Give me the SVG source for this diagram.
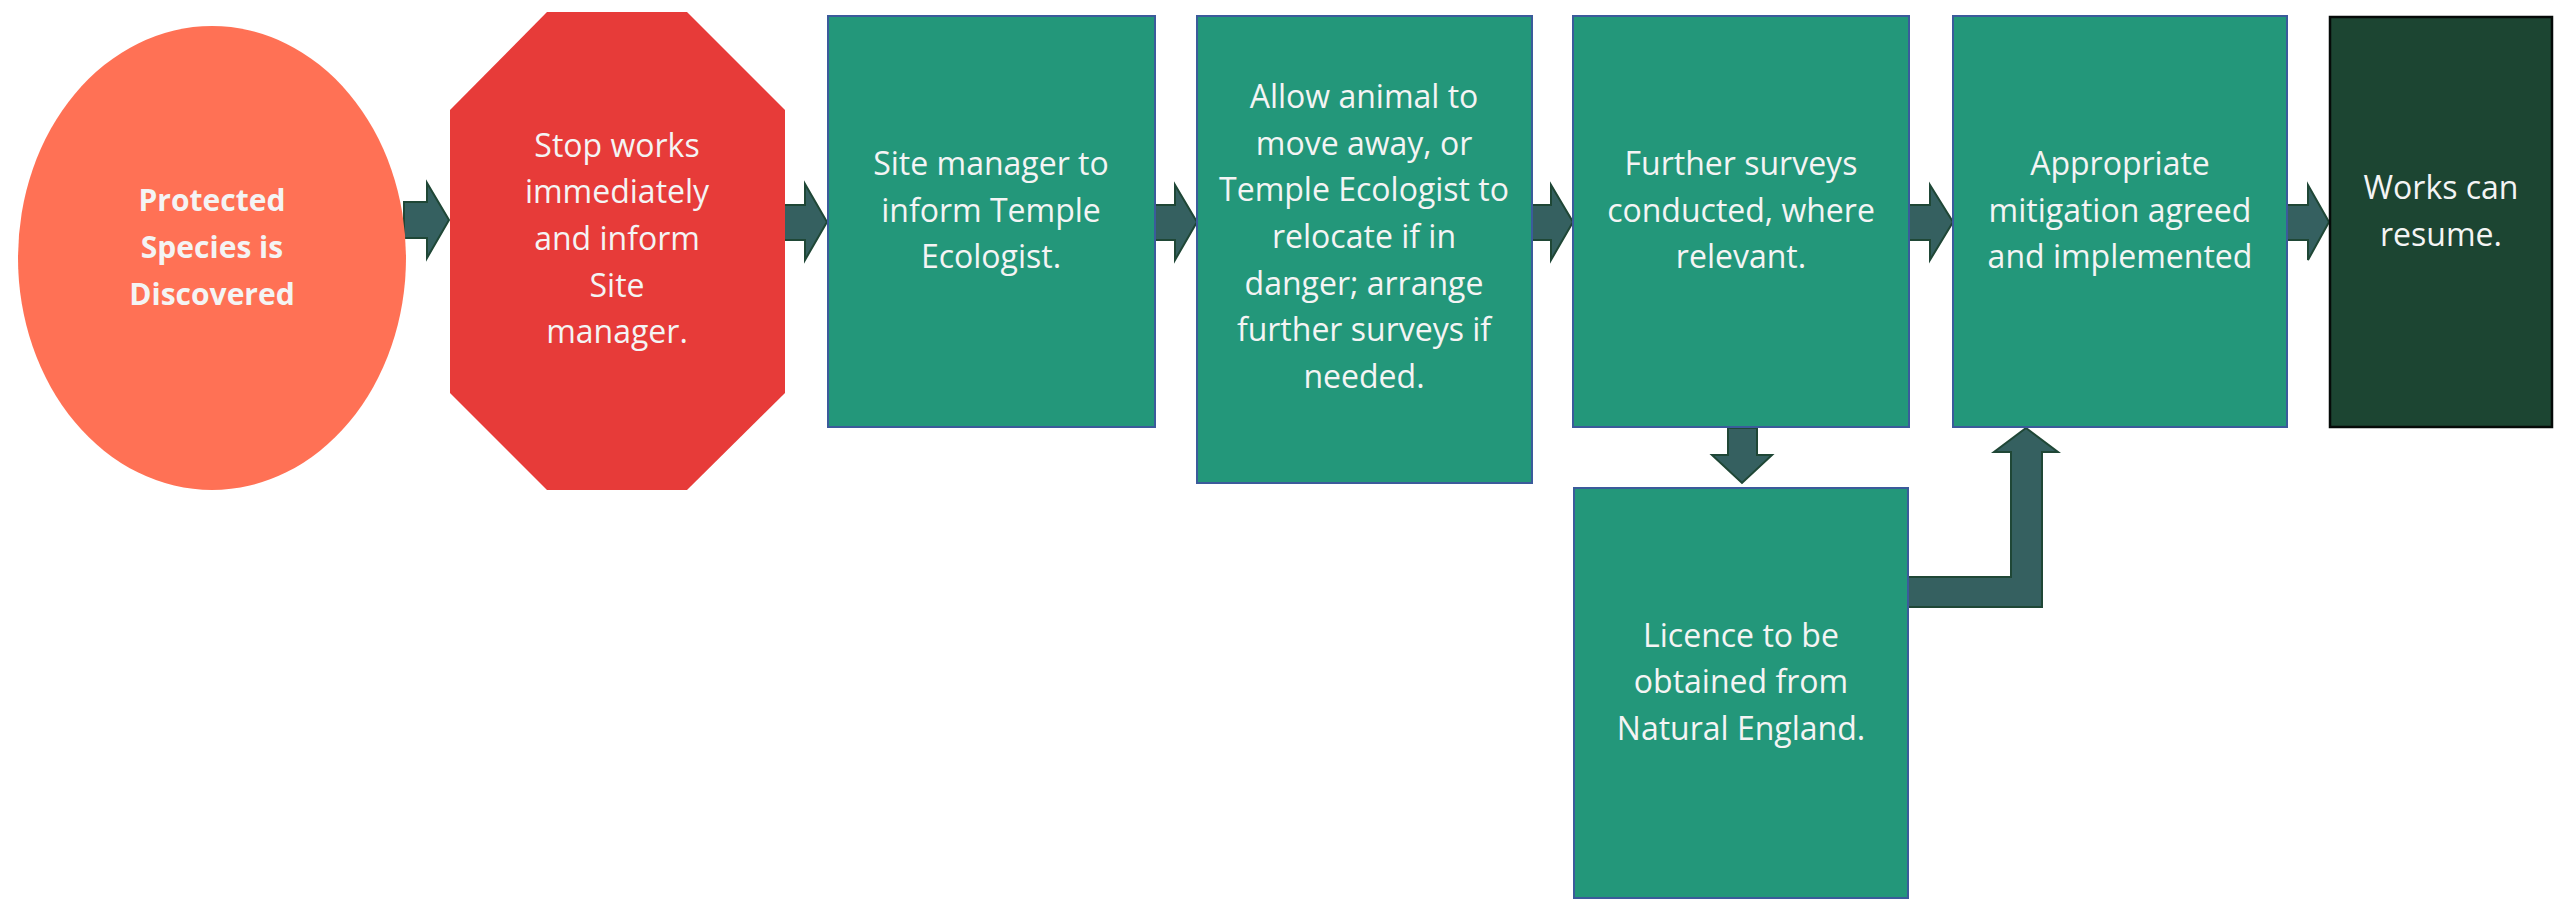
<svg xmlns="http://www.w3.org/2000/svg" width="2555" height="899" viewBox="0 0 2555 899">
<style>
.t{font-family:"Open Sans","Liberation Sans",sans-serif;font-size:32px;fill:#f4f4f4;text-anchor:middle}
.b{font-weight:bold;font-size:30px}
.box{fill:#23977a;stroke:#3b5b9b;stroke-width:2}
.arr{fill:#356060;stroke:#1f4736;stroke-width:2;stroke-linejoin:miter}
</style>
<rect width="2555" height="899" fill="#ffffff"/>
<g id="connectors">
<path class="arr" d="M404,202 H427 V183 L449,220 L427,258 V238 H404 Z"/>
<path class="arr" d="M784,205 H805 V184 L827,222 L805,260 V240 H784 Z"/>
<path class="arr" d="M1153,205 H1175 V185 L1197,222 L1175,260 V240 H1153 Z"/>
<path class="arr" d="M1531,205 H1551 V185 L1573,222 L1551,260 V240 H1531 Z"/>
<path class="arr" d="M1909,205 H1930 V185 L1953,222 L1930,260 V240 H1909 Z"/>
<path class="arr" d="M2286,205 H2308 V185 L2329,222 L2308,260 V240 H2286 Z"/>
<path class="arr" d="M1728,428 H1757 V455 H1772 L1742,483 L1712,455 H1728 Z"/>
<path class="arr" d="M1908,577 H2011 V452 H1994 L2026,428 L2058,452 H2042 V607 H1908 Z"/>
</g>
<g id="n1">
<ellipse cx="212" cy="258" rx="194" ry="232" fill="#ff7155"/>
<text class="t b"><tspan x="212" y="211">Protected</tspan><tspan x="212" y="258">Species is</tspan><tspan x="212" y="305">Discovered</tspan></text>
</g>
<g id="n2">
<polygon points="547,12 687,12 785,110 785,393 687,490 547,490 450,393 450,110" fill="#e73b39"/>
<text class="t"><tspan x="617" y="157">Stop works</tspan><tspan x="617" y="203">immediately</tspan><tspan x="617" y="250">and inform</tspan><tspan x="617" y="297">Site</tspan><tspan x="617" y="343">manager.</tspan></text>
</g>
<g id="n3">
<rect class="box" x="828" y="16" width="327" height="411"/>
<text class="t"><tspan x="991" y="175">Site manager to</tspan><tspan x="991" y="222">inform Temple</tspan><tspan x="991" y="268">Ecologist.</tspan></text>
</g>
<g id="n4">
<rect class="box" x="1197" y="16" width="335" height="467"/>
<text class="t"><tspan x="1364" y="108">Allow animal to</tspan><tspan x="1364" y="155">move away, or</tspan><tspan x="1364" y="201">Temple Ecologist to</tspan><tspan x="1364" y="248">relocate if in</tspan><tspan x="1364" y="295">danger; arrange</tspan><tspan x="1364" y="341">further surveys if</tspan><tspan x="1364" y="388">needed.</tspan></text>
</g>
<g id="n5">
<rect class="box" x="1573" y="16" width="336" height="411"/>
<text class="t"><tspan x="1741" y="175">Further surveys</tspan><tspan x="1741" y="222">conducted, where</tspan><tspan x="1741" y="268">relevant.</tspan></text>
</g>
<g id="n6">
<rect class="box" x="1953" y="16" width="334" height="411"/>
<text class="t"><tspan x="2120" y="175">Appropriate</tspan><tspan x="2120" y="222">mitigation agreed</tspan><tspan x="2120" y="268">and implemented</tspan></text>
</g>
<g id="n7">
<rect x="2330" y="17" width="222" height="410" fill="#1c4532" stroke="#050a08" stroke-width="2.5"/>
<text class="t"><tspan x="2441" y="199">Works can</tspan><tspan x="2441" y="246">resume.</tspan></text>
</g>
<g id="n8">
<rect class="box" x="1574" y="488" width="334" height="410"/>
<text class="t"><tspan x="1741" y="647">Licence to be</tspan><tspan x="1741" y="693">obtained from</tspan><tspan x="1741" y="740">Natural England.</tspan></text>
</g>
</svg>
